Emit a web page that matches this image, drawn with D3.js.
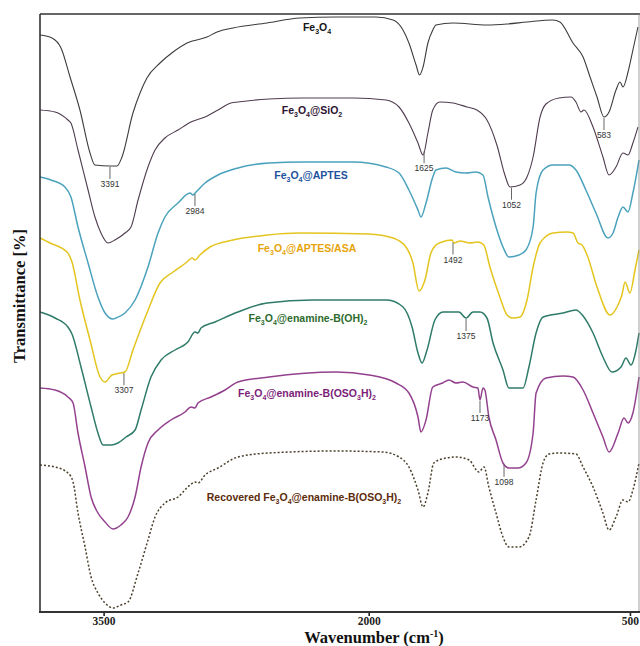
<!DOCTYPE html>
<html>
<head>
<meta charset="utf-8">
<script src="https://cdn.jsdelivr.net/npm/d3@7"></script>
<style>
  body { margin: 0; background: #fff; }
</style>
</head>
<body>
<script>
// wavenumber (cm-1), stacked transmittance (a.u.)
const fe3o4 = [[3860,577],[3792,574],[3741,564],[3690,535],[3634,502],[3577,459],[3549,447],[3464,446],[3424,446],[3396,455],[3334,499],[3294,519],[3255,534],[3181,549],[3107,560],[3028,569],[2915,575],[2858,580],[2768,584],[2575,589],[2389,594],[2185,595],[1958,595],[1860,592],[1803,582],[1769,569],[1728,547],[1708,537],[1688,545],[1660,569],[1632,582],[1614,587],[1516,589],[1321,587],[1206,588],[1091,590],[942,592],[902,590],[827,569],[769,555],[729,535],[689,515],[649,495],[620,500],[580,522],[557,530],[540,525],[511,540],[483,562],[454,585]]
const fe3o4SiO2 = [[3860,502],[3775,500],[3702,492],[3685,489],[3645,462],[3588,422],[3549,395],[3515,379],[3475,369],[3436,372],[3379,379],[3345,385],[3305,412],[3249,445],[3209,462],[3153,474],[3079,482],[3006,490],[2926,495],[2853,502],[2779,509],[2740,510],[2564,513],[2372,514],[2089,514],[1901,512],[1826,505],[1769,489],[1717,469],[1688,457],[1660,479],[1632,502],[1592,510],[1516,509],[1436,505],[1379,502],[1321,492],[1264,467],[1218,437],[1189,425],[1131,427],[1091,435],[1056,455],[1016,495],[982,508],[907,514],[838,515],[810,510],[781,500],[764,502],[712,485],[655,455],[620,437],[580,445],[540,459],[511,457],[483,469],[454,485]]
const fe3o4Aptes = [[3860,435],[3798,432],[3719,425],[3685,415],[3645,385],[3588,349],[3532,315],[3492,299],[3447,293],[3430,294],[3379,299],[3322,312],[3249,345],[3192,379],[3153,395],[3079,409],[3011,419],[2994,417],[2977,420],[2926,429],[2853,437],[2740,444],[2564,449],[2372,450],[2089,450],[1901,445],[1826,439],[1769,422],[1717,402],[1700,395],[1671,409],[1632,435],[1614,442],[1556,444],[1499,440],[1441,439],[1384,440],[1344,437],[1315,415],[1269,385],[1229,365],[1195,355],[1137,357],[1097,362],[1056,385],[1039,419],[999,442],[942,447],[850,447],[810,442],[753,422],[695,399],[626,374],[597,379],[568,395],[540,405],[511,400],[483,419],[448,452]]
const fe3o4AptesAsa = [[3860,374],[3803,369],[3707,360],[3679,350],[3634,312],[3577,272],[3520,235],[3492,230],[3453,237],[3407,239],[3379,240],[3334,262],[3255,299],[3181,329],[3107,340],[3028,350],[3000,354],[2983,352],[2955,357],[2898,365],[2768,372],[2575,377],[2389,379],[2000,378],[1860,374],[1786,365],[1746,349],[1711,321],[1677,332],[1643,359],[1614,367],[1579,370],[1522,372],[1510,369],[1476,371],[1419,369],[1373,370],[1339,367],[1304,345],[1247,315],[1206,297],[1172,294],[1131,295],[1091,312],[1056,345],[1016,369],[942,379],[861,380],[827,379],[798,369],[775,367],[746,357],[689,325],[614,297],[574,305],[546,317],[528,330],[500,319],[471,342],[448,362]]
const enamineBOH2 = [[3860,300],[3775,294],[3702,285],[3679,278],[3628,245],[3571,205],[3532,179],[3503,167],[3458,167],[3419,169],[3373,175],[3322,182],[3288,202],[3232,235],[3175,252],[3096,262],[3023,270],[2983,280],[2966,279],[2949,284],[2870,290],[2740,300],[2575,309],[2315,312],[1895,312],[1803,305],[1751,285],[1717,259],[1694,249],[1665,262],[1620,292],[1573,300],[1516,300],[1482,300],[1441,294],[1401,300],[1361,300],[1321,294],[1286,269],[1229,242],[1195,224],[1114,224],[1080,245],[1039,279],[999,295],[884,299],[810,302],[769,296],[712,279],[655,255],[603,240],[551,245],[523,254],[494,247],[465,262],[448,279]]
const enamineBOSO3H2 = [[3860,224],[3775,222],[3702,215],[3673,209],[3645,179],[3605,145],[3571,115],[3532,99],[3492,90],[3447,83],[3402,87],[3362,95],[3322,115],[3288,145],[3249,169],[3192,182],[3119,192],[3039,200],[3006,205],[2983,204],[2966,209],[2892,215],[2813,222],[2740,230],[2564,235],[2185,240],[1998,237],[1843,229],[1769,219],[1717,195],[1700,180],[1671,192],[1632,225],[1575,229],[1539,232],[1499,229],[1459,230],[1401,225],[1373,224],[1361,212],[1344,224],[1333,222],[1310,195],[1269,172],[1229,149],[1195,144],[1143,144],[1097,149],[1056,179],[1039,219],[982,234],[884,236],[827,235],[769,222],[712,199],[655,175],[620,160],[568,179],[534,194],[511,189],[483,199],[448,235]]
const recovered = [[3860,147],[3775,145],[3702,139],[3673,130],[3645,99],[3605,65],[3571,35],[3532,19],[3492,9],[3447,4],[3402,7],[3362,10],[3305,39],[3249,72],[3209,95],[3153,109],[3079,115],[3011,127],[2983,130],[2966,129],[2926,137],[2853,144],[2740,155],[2564,159],[2185,161],[1918,160],[1826,155],[1769,145],[1717,122],[1688,105],[1660,119],[1626,149],[1556,154],[1499,155],[1424,152],[1367,140],[1338,145],[1310,125],[1269,99],[1229,75],[1195,65],[1137,65],[1080,75],[1039,112],[999,149],[965,158],[907,159],[810,158],[769,145],[712,125],[655,99],[620,82],[580,95],[540,112],[511,110],[483,122],[448,149]]

const seriesNames = [
  'Fe_3O_4',
  'Fe_3O_4@SiO_2',
  'Fe_3O_4@APTES',
  'Fe_3O_4@APTES/ASA',
  'Fe_3O_4@enamine-B(OH)_2',
  'Fe_3O_4@enamine-B(OSO_3H)_2',
  'Recovered Fe_3O_4@enamine-B(OSO_3H)_2'
]
const seriesData = [fe3o4, fe3o4SiO2, fe3o4Aptes, fe3o4AptesAsa, enamineBOH2, enamineBOSO3H2, recovered]

// labelled bands
const peakText = ['3391', '2984', '1625', '1052', '583', '1492', '3307', '1375', '1173', '1098']
const peakSeries = [0, 2, 1, 1, 0, 3, 3, 4, 5, 5]
const peakAt = [3464, 2983, 1682, 1180, 649, 1516, 3385, 1441, 1361, 1223]

const wnTicks = [3500, 2000, 500]

// styles
const lineColors = ['#3c3c3c', '#4e3c4e', '#4ba2bd', '#e4c51f', '#2f7b69', '#93418f', '#4a402c']
const labelColors = ['#151515', '#2c1232', '#22529c', '#e6a40a', '#2d6b2d', '#7c1e79', '#5c2c0c']
// label centre x, baseline y (px)
const labelPos = [[317, 31], [312, 114], [311, 179], [307, 252], [308, 322], [307, 397], [304, 501]]

const width = 640
const height = 646
const plotLeft = 40
const plotRight = 639
const plotTop = 14
const plotBottom = 612

const x = d3.scaleLinear().domain([3860, 2000, 448]).range([plotLeft, 368.7, plotRight])
const y = d3.scaleLinear().domain([0, 598]).range([plotBottom, plotTop])

const svg = d3
  .select('body')
  .append('svg')
  .attr('width', width)
  .attr('height', height)

const line = d3
  .line()
  .x((d) => x(d[0]))
  .y((d) => y(d[1]))
  .curve(d3.curveMonotoneX)

// spectra
svg
  .selectAll('path.spectrum')
  .data(seriesData)
  .join('path')
  .attr('class', 'spectrum')
  .attr('d', (d) => line(d))
  .attr('fill', 'none')
  .attr('stroke', (d, i) => lineColors[i])
  .attr('stroke-width', (d, i) => (i < 2 ? 1.1 : 1.5))
  .attr('stroke-dasharray', (d, i) => (i === 6 ? '2,2' : null))
  .attr('stroke-linejoin', 'round')

// value of a series at a wavenumber
const valueAt = (data, wn) => {
  for (let k = 0; k < data.length - 1; k++) {
    const [a, va] = data[k]
    const [b, vb] = data[k + 1]
    if (wn <= a && wn >= b) return va + ((wn - a) / (b - a)) * (vb - va)
  }
  return data[data.length - 1][1]
}

// band markers
const peaks = peakText.map((t, i) => {
  const wn = peakAt[i]
  return { text: t, px: x(wn), py: y(valueAt(seriesData[peakSeries[i]], wn)) }
})

const mark = svg.append('g').attr('class', 'peaks')
mark
  .selectAll('line')
  .data(peaks)
  .join('line')
  .attr('x1', (d) => d.px)
  .attr('x2', (d) => d.px)
  .attr('y1', (d) => d.py + 1)
  .attr('y2', (d) => d.py + 13)
  .attr('stroke', '#555')
  .attr('stroke-width', 0.9)

mark
  .selectAll('text')
  .data(peaks)
  .join('text')
  .attr('x', (d) => d.px)
  .attr('y', (d) => d.py + 21)
  .attr('text-anchor', 'middle')
  .style('font', '8.5px "Liberation Sans", Arial, sans-serif')
  .attr('fill', '#333')
  .text((d) => d.text)

// series labels with subscripts
const labels = svg.append('g').attr('class', 'labels')
seriesNames.forEach((name, i) => {
  const t = labels
    .append('text')
    .attr('x', labelPos[i][0])
    .attr('y', labelPos[i][1])
    .attr('text-anchor', 'middle')
    .attr('fill', labelColors[i])
    .style('font-family', '"Liberation Sans", Arial, sans-serif')
    .style('font-weight', 'bold')
    .style('font-size', '10.5px')
  let shifted = false
  name.split(/(_\d)/).filter((p) => p !== '').forEach((p) => {
    if (p[0] === '_') {
      t.append('tspan').attr('dy', 2.5).style('font-size', '7px').text(p.slice(1))
      shifted = true
    } else {
      t.append('tspan').attr('dy', shifted ? -2.5 : 0).text(p)
      shifted = false
    }
  })
})

// frame
svg.append('line').attr('x1', plotLeft).attr('x2', width).attr('y1', plotTop).attr('y2', plotTop)
  .attr('stroke', '#333').attr('stroke-width', 1.6)
svg.append('line').attr('x1', plotLeft).attr('x2', plotLeft).attr('y1', plotTop).attr('y2', plotBottom)
  .attr('stroke', '#333').attr('stroke-width', 1.6)
svg.append('line').attr('x1', plotRight).attr('x2', plotRight).attr('y1', plotTop).attr('y2', plotBottom)
  .attr('stroke', '#888').attr('stroke-width', 0.8)

// x axis
const xAxis = svg
  .append('g')
  .attr('transform', `translate(0,${plotBottom})`)
  .call(d3.axisBottom(x).tickValues(wnTicks).tickSize(4).tickPadding(1).tickFormat(d3.format('d')))
xAxis.select('.domain').remove()
xAxis.selectAll('.tick line').attr('stroke', '#222').attr('stroke-width', 1.6)
xAxis
  .selectAll('.tick text')
  .attr('fill', '#222')
  .style('font', 'bold 11.5px "Liberation Serif", "Times New Roman", serif')
svg.append('line').attr('x1', plotLeft - 1).attr('x2', width).attr('y1', plotBottom).attr('y2', plotBottom)
  .attr('stroke', '#333').attr('stroke-width', 2.2)

// axis titles
const xTitle = svg
  .append('text')
  .attr('x', 374)
  .attr('y', 643)
  .attr('text-anchor', 'middle')
  .attr('fill', '#111')
  .style('font', 'bold 16.5px "Liberation Serif", "Times New Roman", serif')
xTitle.append('tspan').text('Wavenumber (cm')
xTitle.append('tspan').attr('dy', -6).style('font-size', '10px').text('-1')
xTitle.append('tspan').attr('dy', 6).text(')')

svg
  .append('text')
  .attr('transform', 'translate(25,296) rotate(-90)')
  .attr('text-anchor', 'middle')
  .attr('fill', '#111')
  .style('font', 'bold 16.5px "Liberation Serif", "Times New Roman", serif')
  .text('Transmittance [%]')
</script>
</body>
</html>
